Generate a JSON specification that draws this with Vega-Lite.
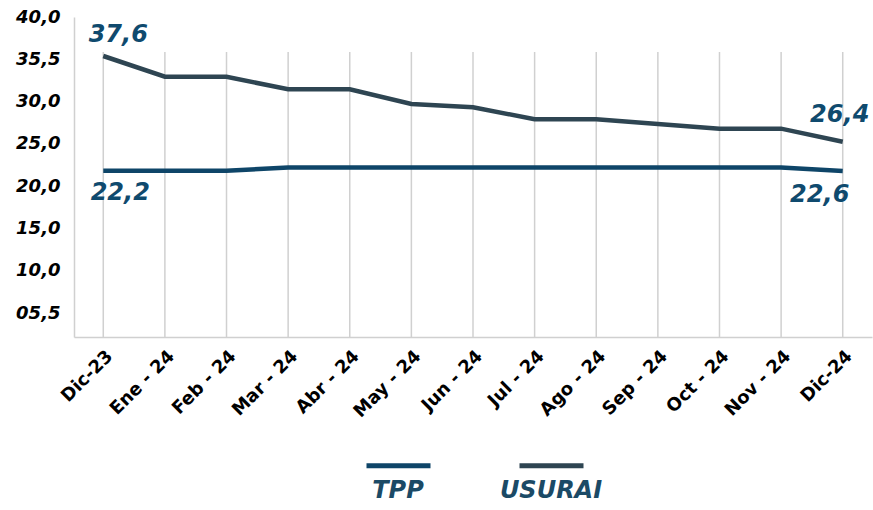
{
  "$schema": "https://vega.github.io/schema/vega-lite/v6.json",
  "autosize": {"type": "none"},
  "padding": {"left": 74, "top": 17, "right": 1, "bottom": 173},
  "width": 798,
  "height": 320,
  "background": "white",
  "config": {"view": {"stroke": null}},
  "data": {"values": [
    {"month": "Dic-23", "series": "USURAI", "value": 35.39, "label": "37,6"},
    {"month": "Ene - 24", "series": "USURAI", "value": 32.94},
    {"month": "Feb - 24", "series": "USURAI", "value": 32.94},
    {"month": "Mar - 24", "series": "USURAI", "value": 31.45},
    {"month": "Abr - 24", "series": "USURAI", "value": 31.45},
    {"month": "May - 24", "series": "USURAI", "value": 29.72},
    {"month": "Jun - 24", "series": "USURAI", "value": 29.33},
    {"month": "Jul - 24", "series": "USURAI", "value": 27.91},
    {"month": "Ago - 24", "series": "USURAI", "value": 27.91},
    {"month": "Sep - 24", "series": "USURAI", "value": 27.35},
    {"month": "Oct - 24", "series": "USURAI", "value": 26.8},
    {"month": "Nov - 24", "series": "USURAI", "value": 26.8},
    {"month": "Dic-24", "series": "USURAI", "value": 25.26, "label": "26,4"},
    {"month": "Dic-23", "series": "TPP", "value": 21.83, "label": "22,2"},
    {"month": "Ene - 24", "series": "TPP", "value": 21.83},
    {"month": "Feb - 24", "series": "TPP", "value": 21.83},
    {"month": "Mar - 24", "series": "TPP", "value": 22.21},
    {"month": "Abr - 24", "series": "TPP", "value": 22.21},
    {"month": "May - 24", "series": "TPP", "value": 22.21},
    {"month": "Jun - 24", "series": "TPP", "value": 22.21},
    {"month": "Jul - 24", "series": "TPP", "value": 22.21},
    {"month": "Ago - 24", "series": "TPP", "value": 22.21},
    {"month": "Sep - 24", "series": "TPP", "value": 22.21},
    {"month": "Oct - 24", "series": "TPP", "value": 22.21},
    {"month": "Nov - 24", "series": "TPP", "value": 22.21},
    {"month": "Dic-24", "series": "TPP", "value": 21.8, "label": "22,6"}
  ]},
  "encoding": {
    "x": {
      "field": "month", "type": "ordinal", "sort": null,
      "scale": {"type": "point", "padding": 0.475},
      "axis": {
        "title": null, "grid": false, "ticks": false,
        "domainColor": "#d0d0d0", "domainWidth": 1.5,
        "labelAngle": -45, "labelFont": "DejaVu Sans", "labelFontWeight": "bold",
        "labelFontSize": 18, "labelColor": "#000000", "labelPadding": 10
      }
    }
  },
  "layer": [
    {
      "transform": [{"filter": "datum.series == 'TPP'"}],
      "mark": {"type": "rule", "color": "#d0d0d0", "strokeWidth": 1.5},
      "encoding": {
        "y": {"datum": 35.86},
        "y2": {"datum": 2.17}
      }
    },
    {
      "mark": {"type": "line", "strokeWidth": 4.5},
      "encoding": {
        "y": {
          "field": "value", "type": "quantitative",
          "scale": {"domain": [2.17, 40], "nice": false, "zero": false},
          "axis": {
            "title": null, "grid": false, "ticks": false,
            "values": [5, 10, 15, 20, 25, 30, 35, 40],
            "labelExpr": "datum.value == 35 ? '35,5' : datum.value == 5 ? '05,5' : replace(format(datum.value, '.1f'), '.', ',')",
            "domainColor": "#d0d0d0", "domainWidth": 1.5,
            "labelFont": "DejaVu Sans", "labelFontWeight": "bold", "labelFontStyle": "italic",
            "labelFontSize": 18, "labelColor": "#000000", "labelPadding": 14
          }
        },
        "color": {
          "field": "series", "type": "nominal",
          "scale": {"domain": ["TPP", "USURAI"], "range": ["#0e4568", "#2e4552"]},
          "legend": {
            "title": null, "orient": "none", "legendX": 290, "legendY": 439,
            "direction": "horizontal",
            "symbolType": "M-1,-0.78L1,-0.78", "symbolSize": 4096, "symbolStrokeWidth": 5,
            "labelAlign": "center", "labelOffset": -35, "columnPadding": 58,
            "labelFont": "DejaVu Sans", "labelFontWeight": "bold", "labelFontStyle": "italic",
            "labelFontSize": 24, "labelColor": "#1b4a66", "labelLimit": 300
          }
        }
      }
    },
    {
      "transform": [{"filter": "datum.series == 'USURAI' && datum.month == 'Dic-23'"}],
      "mark": {"type": "text", "font": "DejaVu Sans", "fontWeight": "bold", "fontStyle": "italic", "fontSize": 24, "color": "#0f4a6e", "dx": 15, "dy": -21},
      "encoding": {"y": {"field": "value", "type": "quantitative"}, "text": {"field": "label"}}
    },
    {
      "transform": [{"filter": "datum.series == 'TPP' && datum.month == 'Dic-23'"}],
      "mark": {"type": "text", "font": "DejaVu Sans", "fontWeight": "bold", "fontStyle": "italic", "fontSize": 24, "color": "#0f4a6e", "dx": 17, "dy": 22},
      "encoding": {"y": {"field": "value", "type": "quantitative"}, "text": {"field": "label"}}
    },
    {
      "transform": [{"filter": "datum.series == 'USURAI' && datum.month == 'Dic-24'"}],
      "mark": {"type": "text", "font": "DejaVu Sans", "fontWeight": "bold", "fontStyle": "italic", "fontSize": 24, "color": "#0f4a6e", "dx": -3, "dy": -27},
      "encoding": {"y": {"field": "value", "type": "quantitative"}, "text": {"field": "label"}}
    },
    {
      "transform": [{"filter": "datum.series == 'TPP' && datum.month == 'Dic-24'"}],
      "mark": {"type": "text", "font": "DejaVu Sans", "fontWeight": "bold", "fontStyle": "italic", "fontSize": 24, "color": "#0f4a6e", "dx": -23, "dy": 24},
      "encoding": {"y": {"field": "value", "type": "quantitative"}, "text": {"field": "label"}}
    }
  ]
}
